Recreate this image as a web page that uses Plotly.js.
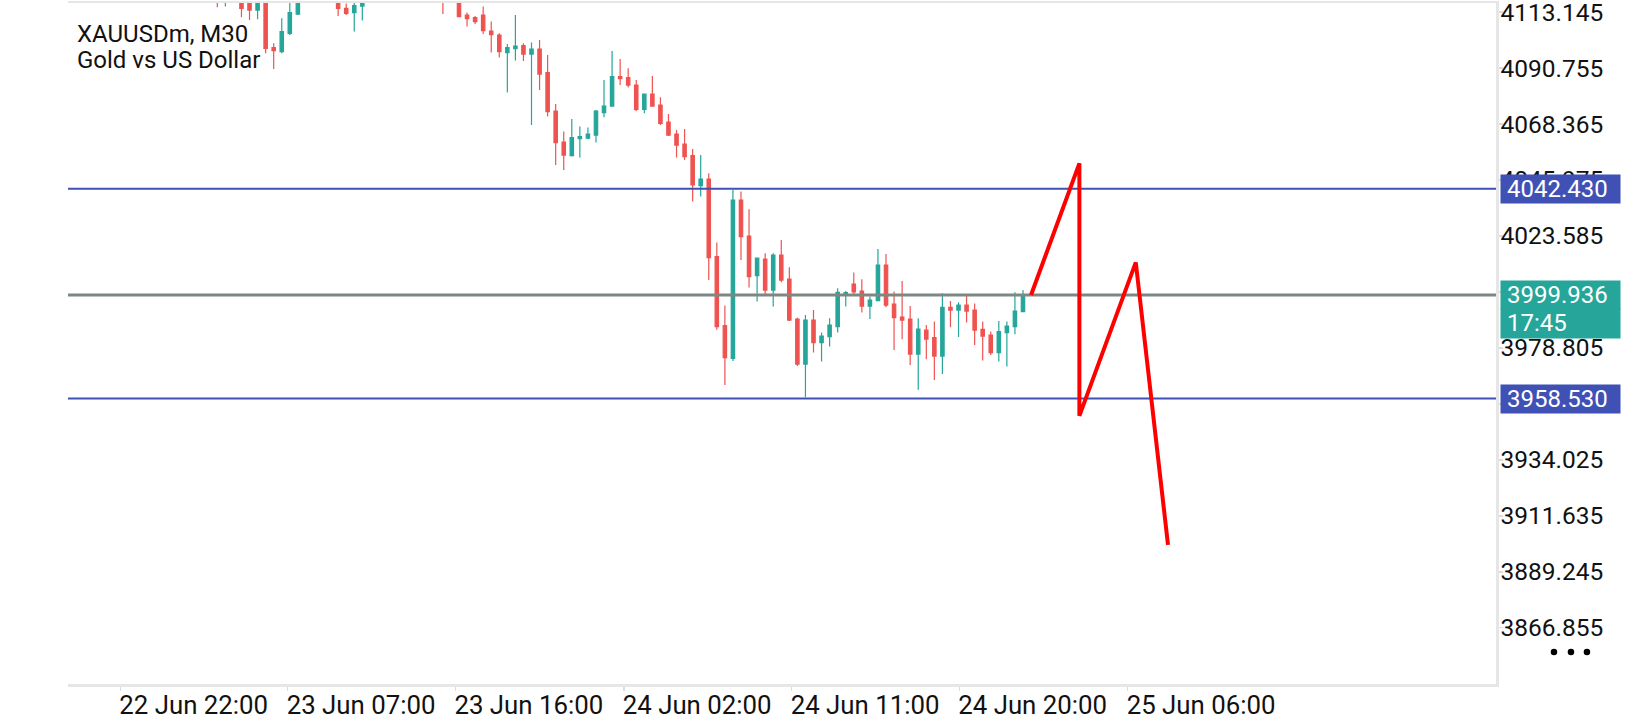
<!DOCTYPE html>
<html>
<head>
<meta charset="utf-8">
<script src="https://cdn.plot.ly/plotly-3.0.1.min.js"></script>
<style>
html,body{margin:0;padding:0;background:#fff;}
#chart{width:1640px;height:720px;}
</style>
</head>
<body>
<div id="chart"></div>
<script>
// ---- data ----
const barNo = [0,1,3,4,5,6,7,8,9,10,15,16,17,18,28,30,
  31,32,33,34,35,36,37,38,39,40,41,42,43,44,45,46,47,48,49,50,
  51,52,53,54,55,56,57,58,59,60,61,62,63,64,65,66,67,68,69,70,
  71,72,73,74,75,76,77,78,79,80,81,82,83,84,85,86,87,88,89,90,
  91,92,93,94,95,96,97,98,99,100];
const openP = [4121,4118,4119,4119,4113.9,4118,4098.9,4097.3,4104.6,4112.3,4118,4114.6,4112.9,4115.5,4121,4117.5,
  4111.9,4110.9,4111.9,4105.5,4103.9,4096.9,4098.5,4099.7,4096.3,4098.3,4088.9,4073.5,4061.1,4055.7,4062.5,4062.7,4063.9,4072.9,4075.5,4087.3,
  4086.9,4083.9,4074.2,4080.3,4075.9,4069.1,4064.3,4060.3,4055.7,4043.7,4046.3,4015.3,3987.7,3974.6,4037.9,4023.5,4007.7,4014.3,4001.9,4015.9,
  4006.3,3990.3,3972.3,3989.9,3980.9,3983.3,3987.3,4000.0,4004.3,4001.5,3995.5,3997.7,4011.9,3996.3,3991.1,3990.3,3976.3,3985.9,3982.9,3975.5,
  3995.0,3993.9,3995.9,3993.9,3986.2,3983.9,3976.9,3984.9,3987.3,3993.3];
const highP = [4123,4122,4121,4120,4120,4119.5,4100.6,4110.6,4117.5,4119,4120,4116.5,4117.5,4118,4123,4118.5,
  4112.9,4111.5,4115.3,4109.3,4104.6,4100.3,4111.9,4100.6,4100.9,4101.9,4095.9,4076.3,4065.3,4070.3,4067.3,4066.9,4073.9,4085.9,4097.5,4094.3,
  4090.6,4085.9,4080.5,4087.5,4079.0,4072.3,4065.9,4066.3,4058.3,4055.9,4048.6,4020.9,3995.7,4041.9,4041.3,4034.2,4014.9,4016.6,4016.6,4021.9,
  4011.0,3990.8,3991.9,3993.9,3984.9,3990.6,4002.6,4001.5,4008.9,4006.2,3999.3,4018.3,4016.3,4001.3,4005.5,3995.5,3990.6,3987.9,3989.3,4000.6,
  3997.5,3997.0,4000.0,3996.5,3989.3,3985.3,3989.5,3989.3,4001.0,4001.9];
const lowP = [4115.0,4115.3,4111.0,4109.9,4110.2,4096.6,4090.3,4096.6,4103.9,4111.9,4111.5,4111.9,4105.3,4109.7,4112.3,4111.0,
  4107.3,4108.3,4104.3,4096.9,4094.9,4080.9,4093.7,4093.5,4067.9,4081.9,4071.3,4051.9,4049.9,4055.3,4054.9,4062.2,4060.9,4071.0,4075.3,4083.9,
  4082.9,4073.5,4072.6,4075.3,4067.9,4063.5,4054.9,4053.9,4037.3,4039.3,4005.9,3986.0,3963.9,3973.5,4013.9,4002.9,3997.3,3999.9,3995.3,4005.0,
  3989.5,3971.5,3959.0,3976.9,3973.3,3979.3,3984.9,3995.3,4000.3,3992.9,3990.3,3997.7,3995.0,3977.9,3982.2,3971.9,3962.0,3974.2,3965.9,3968.3,
  3987.0,3983.1,3988.9,3979.9,3973.7,3975.9,3973.3,3971.3,3984.2,3993.0];
const closeP = [4118,4120,4114.6,4113.9,4118,4098.6,4097.7,4105.3,4112.9,4117.5,4114.6,4112.6,4115.7,4117.2,4118,4111.3,
  4110.5,4109.3,4105.7,4104.1,4097.3,4098.9,4099.5,4096.3,4098.3,4088.3,4073.3,4060.9,4055.9,4062.9,4063.3,4064.3,4073.5,4075.5,4087.3,4086.5,
  4083.9,4074.2,4080.3,4075.5,4068.6,4063.9,4059.9,4055.3,4044.0,4046.3,4014.9,3987.3,3974.9,4037.9,4023.3,4007.3,4014.7,4001.9,4015.9,4005.9,
  3989.9,3972.3,3989.9,3980.9,3983.5,3987.9,4001.0,4000.9,4001.2,3995.5,3997.9,4011.9,3995.9,3990.9,3989.9,3976.3,3986.3,3982.3,3975.5,3995.0,
  3993.9,3995.9,3993.5,3985.9,3983.5,3976.9,3985.3,3987.5,3993.5,3999.936];

// drawn zig-zag projection
const zigBar   = [101, 107, 107, 114, 118];
const zigPrice = [3999.94, 4052.6, 3951.6, 4013.0, 3900.0];

// horizontal levels
const levelPrices = [4042.430, 3958.530];
const currentPrice = 3999.936;
const countdown = '17:45';

// axis ticks
const timeTickBars = [-12.04, 8.74, 29.56, 50.45, 71.29, 92.09, 113.0];
const timeTickLabels = ['22 Jun 22:00','23 Jun 07:00','23 Jun 16:00','24 Jun 02:00','24 Jun 11:00','24 Jun 20:00','25 Jun 06:00'];
const priceTicks = [4113.145,4090.755,4068.365,4045.975,4023.585,4001.195,3978.805,3956.415,3934.025,3911.635,3889.245,3866.855];

const symbolTitle = 'XAUUSDm, M30';
const symbolDesc = 'Gold vs US Dollar';

// ---- chart ----
const xRange = [-18.53, 158.71];
const yRange = [3844.345, 4116.745];
const UP = '#26a69a', DOWN = '#ef5350', LEVEL = '#3f51b5';

const traces = [
  {
    type: 'candlestick', x: barNo, open: openP, high: highP, low: lowP, close: closeP,
    increasing: {line: {color: UP, width: 1.2}, fillcolor: UP},
    decreasing: {line: {color: DOWN, width: 1.2}, fillcolor: DOWN},
    whiskerwidth: 0, hoverinfo: 'skip'
  }
];
levelPrices.forEach(p => traces.push({
  type: 'scatter', mode: 'lines', x: xRange, y: [p, p],
  line: {color: LEVEL, width: 2}, hoverinfo: 'skip'
}));
traces.push({
  type: 'scatter', mode: 'lines', x: xRange, y: [currentPrice, currentPrice],
  line: {color: '#7d8882', width: 3}, hoverinfo: 'skip'
});
traces.push({
  type: 'scatter', mode: 'lines', x: zigBar, y: zigPrice,
  line: {color: '#ff0000', width: 4}, hoverinfo: 'skip'
});

const boxX = 1.0028;
const annotations = [
  {text: symbolTitle, xref: 'paper', yref: 'paper', x: 0.0049, y: 0.9549, xanchor: 'left', yanchor: 'middle',
   showarrow: false, font: {family: 'Roboto', size: 24, color: '#111'}},
  {text: symbolDesc, xref: 'paper', yref: 'paper', x: 0.0049, y: 0.9156, xanchor: 'left', yanchor: 'middle',
   showarrow: false, font: {family: 'Roboto', size: 24, color: '#111'}}
];
levelPrices.forEach(p => annotations.push({
  text: '&nbsp;' + p.toFixed(3), xref: 'paper', yref: 'y', x: boxX, y: p, xanchor: 'left', yanchor: 'middle',
  showarrow: false, width: 119, height: 27.5, align: 'left', borderpad: 0, bgcolor: LEVEL,
  font: {family: 'Roboto', size: 24, color: '#fff'}
}));
annotations.push({
  text: '&nbsp;' + currentPrice.toFixed(3), xref: 'paper', yref: 'y', x: boxX, y: currentPrice, xanchor: 'left', yanchor: 'middle',
  showarrow: false, width: 119, height: 28, align: 'left', borderpad: 0, bgcolor: UP,
  font: {family: 'Roboto', size: 24, color: '#fff'}
});
annotations.push({
  text: '&nbsp;' + countdown, xref: 'paper', yref: 'y', x: boxX, y: currentPrice, yshift: -28, xanchor: 'left', yanchor: 'middle',
  showarrow: false, width: 119, height: 28.5, align: 'left', borderpad: 0, bgcolor: UP,
  font: {family: 'Roboto', size: 24, color: '#fff'}
});

const dotCentersX = [1.0406, 1.0525, 1.0637];
const shapes = dotCentersX.map(cx => ({
  type: 'circle', xref: 'paper', yref: 'paper',
  x0: cx - 0.00228, x1: cx + 0.00228, y0: 0.0470 - 0.00477, y1: 0.0470 + 0.00477,
  fillcolor: '#000', line: {width: 0}
}));

const layout = {
  width: 1640, height: 720,
  margin: {l: 68, r: 144, t: 3, b: 36, pad: 0},
  paper_bgcolor: '#fff', plot_bgcolor: '#fff',
  showlegend: false,
  boxgap: 0.4,
  font: {family: 'Roboto', size: 24, color: '#111'},
  xaxis: {
    range: xRange, rangeslider: {visible: false}, showgrid: false, zeroline: false,
    showline: true, mirror: true, linecolor: '#e6e6e6', linewidth: 2.5,
    ticks: 'outside', ticklen: 4, tickcolor: '#dcdcdc', tickwidth: 1.5,
    tickvals: timeTickBars, ticktext: timeTickLabels, ticklabelposition: 'outside right',
    ticklabelshift: -3, ticklabelstandoff: -3, ticklabeloverflow: 'allow',
    tickfont: {family: 'Roboto', size: 25.8, color: '#111'}
  },
  yaxis: {
    range: yRange, side: 'right', showgrid: false, zeroline: false,
    showline: true, linecolor: '#e6e6e6', linewidth: 2.5,
    ticks: 'outside', ticklen: 4, tickcolor: '#dcdcdc', tickwidth: 1.5,
    tickvals: priceTicks, ticktext: priceTicks.map(v => v.toFixed(3)),
    ticklabelstandoff: -7, ticklabeloverflow: 'allow',
    tickfont: {family: 'Roboto', size: 24.5, color: '#111'}
  },
  annotations: annotations,
  shapes: shapes
};

Plotly.newPlot('chart', traces, layout, {staticPlot: true, displayModeBar: false});
</script>
</body>
</html>
